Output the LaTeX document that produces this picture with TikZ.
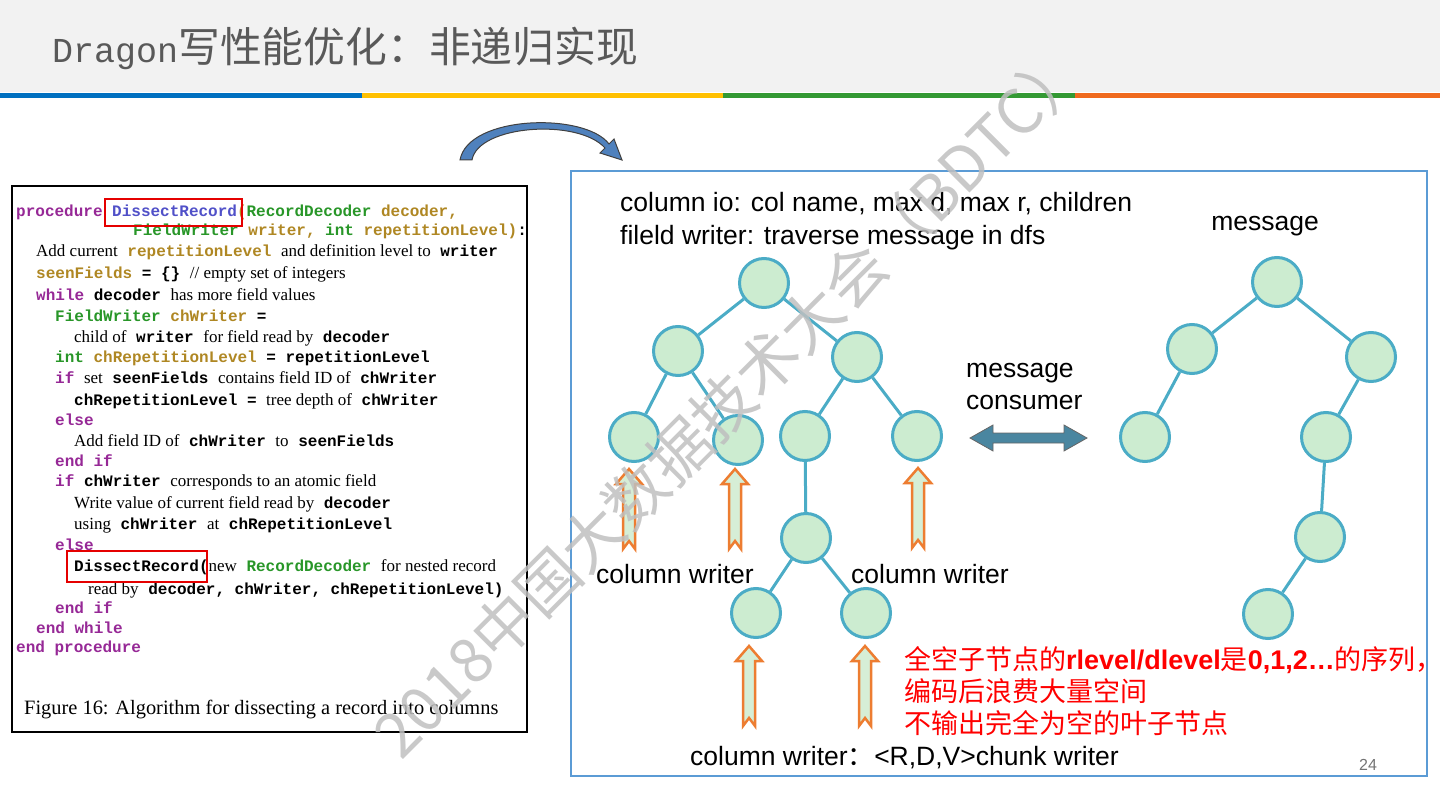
\documentclass[tikz,border=0pt]{standalone}
\usepackage{fontspec}
\setmainfont{Liberation Serif}
\setsansfont{Liberation Sans}
\setmonofont{Liberation Mono}
\newfontfamily\cjk{Noto Sans CJK SC}
\usetikzlibrary{positioning,arrows.meta,calc}

\definecolor{hdrgray}{RGB}{242,242,242}
\definecolor{barblue}{RGB}{0,112,192}
\definecolor{baryellow}{RGB}{255,192,0}
\definecolor{bargreen}{RGB}{51,153,51}
\definecolor{barorange}{RGB}{240,106,30}
\definecolor{titlegray}{RGB}{89,89,89}
\definecolor{kwpurple}{RGB}{150,40,150}
\definecolor{fnblue}{RGB}{80,80,200}
\definecolor{tygreen}{RGB}{40,150,40}
\definecolor{vagold}{RGB}{175,135,35}
\definecolor{panelblue}{RGB}{91,155,213}
\definecolor{nodefill}{RGB}{204,236,208}
\definecolor{nodeedge}{RGB}{75,172,198}
\definecolor{arrteal}{RGB}{74,134,160}
\definecolor{arrorange}{RGB}{237,125,49}
\definecolor{arrfill}{RGB}{214,238,214}
\definecolor{curveblue}{RGB}{79,129,189}

% code listing: mono bold by default, \tx for the prose parts
\newcommand{\kw}[1]{\textcolor{kwpurple}{#1}}
\newcommand{\fn}[1]{\textcolor{fnblue}{#1}}
\newcommand{\ty}[1]{\textcolor{tygreen}{#1}}
\newcommand{\va}[1]{\textcolor{vagold}{#1}}
\newcommand{\tx}[1]{{\rmfamily\mdseries\fontsize{17}{18}\selectfont #1}}

\begin{document}
\begin{tikzpicture}[
  x=1pt, y=-1pt,
  every node/.style={inner sep=0pt},
  codeln/.style={anchor=base west, font=\ttfamily\bfseries\fontsize{16}{18}\selectfont},
  txt/.style={font=\sffamily\fontsize{26.5}{32}\selectfont},
  redtxt/.style={font=\cjk\fontsize{27}{32}\selectfont, text=red, anchor=base west},
  tn/.style={circle, draw=nodeedge, fill=nodefill, line width=3pt, minimum size=49pt},
  tl/.style={draw=nodeedge, line width=3pt},
  redbox/.style={draw=red!90!black, line width=2pt},
  uparr/.pic={\draw[line width=2.5pt, draw=arrorange, fill=arrfill]
    (0,0) -- (13,15) -- (6,15) -- (6,80) -- (0,72) -- (-6,80) -- (-6,15) -- (-13,15) -- cycle;}
]
\useasboundingbox (0,0) rectangle (1440,810);

% header
\fill[hdrgray] (0,0) rectangle (1440,92);
\fill[barblue] (0,93) rectangle (362,98);
\fill[baryellow] (362,93) rectangle (723,98);
\fill[bargreen] (723,93) rectangle (1075,98);
\fill[barorange] (1075,93) rectangle (1440,98);
\node[anchor=base west, text=titlegray] (title) at (52,63)
  {{\ttfamily\fontsize{35}{40}\selectfont Dragon}{\cjk\fontsize{41.8}{44}\selectfont 写性能优化：非递归实现}};

% curved arrow
\filldraw[fill=curveblue, draw=black!75, line width=1pt]
  (460,160) .. controls (468,115) and (585,112) .. (609,144) -- (614,139) -- (622,160)
  -- (600,153) -- (605,148) .. controls (578,118) and (478,125) .. (472,160) -- cycle;

% algorithm listing
\draw[line width=1.2pt] (12,186) rectangle (527,732);
\node[codeln] (l1) at (16,217) {\kw{procedure} \fn{DissectRecord}\va{(}\ty{RecordDecoder} \va{decoder,}};
\node[codeln] (l2) at (133,236) {\ty{FieldWriter} \va{writer,} \ty{int} \va{repetitionLevel)}:};
\node[codeln] (l3) at (36,257) {\tx{Add current} \va{repetitionLevel} \tx{and definition level to} writer};
\node[codeln] (l4) at (36,279) {\va{seenFields} = \{\} \tx{// empty set of integers}};
\node[codeln] (l5) at (36,301) {\kw{while} decoder \tx{has more field values}};
\node[codeln] (l6) at (55,321) {\ty{FieldWriter} \va{chWriter} =};
\node[codeln] (l7) at (74,342) {\tx{child of} writer \tx{for field read by} decoder};
\node[codeln] (l8) at (55,362) {\ty{int} \va{chRepetitionLevel} = repetitionLevel};
\node[codeln] (l9) at (55,383) {\kw{if} \tx{set} seenFields \tx{contains field ID of} chWriter};
\node[codeln] (l10) at (74,405) {chRepetitionLevel = \tx{tree depth of} chWriter};
\node[codeln] (l11) at (55,425) {\kw{else}};
\node[codeln] (l12) at (74,446) {\tx{Add field ID of} chWriter \tx{to} seenFields};
\node[codeln] (l13) at (55,466) {\kw{end if}};
\node[codeln] (l14) at (55,486) {\kw{if} chWriter \tx{corresponds to an atomic field}};
\node[codeln] (l15) at (74,508) {\tx{Write value of current field read by} decoder};
\node[codeln] (l16) at (74,529) {\tx{using} chWriter \tx{at} chRepetitionLevel};
\node[codeln] (l17) at (55,550) {\kw{else}};
\node[codeln] (l18) at (74,571) {DissectRecord(\tx{new} \ty{RecordDecoder} \tx{for nested record}};
\node[codeln] (l19) at (88,594) {\tx{read by} decoder, chWriter, chRepetitionLevel)};
\node[codeln] (l20) at (55,613) {\kw{end if}};
\node[codeln] (l21) at (36,633) {\kw{end while}};
\node[codeln] (l22) at (16,652) {\kw{end procedure}};
\node[codeln, font=\rmfamily\fontsize{20.4}{22}\selectfont] (cap) at (24,714)
  {Figure 16: Algorithm for dissecting a record into columns};
\draw[redbox] (105,199) rectangle (242,226);
\draw[redbox] (67,551) rectangle (207,582);

% right panel
\draw[draw=panelblue, line width=2pt] (571,171) rectangle (1427,776);
\node[txt, anchor=base west] (io) at (620,212) {column io: col name, max d, max r, children};
\node[txt, anchor=base west] (fw) at (620,245) {fileld writer: traverse message in dfs};
\node[txt] (msg) at (1265,226) {message};
\node[txt, anchor=west, align=left] (cons) at (966,386) {message\\consumer};

% column tree
\node[tn] (r) at (764,283) {};
\node[tn] (a) at (678,351) {};
\node[tn] (b) at (857,357) {};
\node[tn] (aa) at (634,437) {};
\node[tn] (ab) at (738,440) {};
\node[tn] (ba) at (805,436) {};
\node[tn] (bb) at (917,436) {};
\node[tn] (c) at (806,538) {};
\node[tn] (ca) at (756,613) {};
\node[tn] (cb) at (866,613) {};

% message tree
\node[tn] (mr) at (1277,282) {};
\node[tn] (ma) at (1192,349) {};
\node[tn] (mb) at (1371,357) {};
\node[tn] (maa) at (1145,437) {};
\node[tn] (mba) at (1326,437) {};
\node[tn] (mc) at (1320,537) {};
\node[tn] (md) at (1268,614) {};

\foreach \u/\v in {r/a,r/b,a/aa,a/ab,b/ba,b/bb,ba/c,c/ca,c/cb,
                   mr/ma,mr/mb,ma/maa,mb/mba,mba/mc,mc/md}
  \draw[tl] (\u) -- (\v);

% exchange arrow
\filldraw[fill=arrteal, draw=black!60, line width=0.8pt]
  (970,438) -- (993,425) -- (993,433) -- (1064,433) -- (1064,425) -- (1087,438)
  -- (1064,451) -- (1064,443) -- (993,443) -- (993,451) -- cycle;

% column writers
\pic at (629,469) {uparr};
\pic at (735,469) {uparr};
\pic at (918,468) {uparr};
\pic at (749,646) {uparr};
\pic at (865,646) {uparr};
\node[txt] (cw1) at (675,574) {column writer};
\node[txt] (cw2) at (930,574) {column writer};
\node[txt, anchor=base west] (cw3) at (690,765) {column writer{\cjk ：}<R,D,V>chunk writer};

\node[redtxt] (n1) at (904,669) {全空子节点的{\sffamily\bfseries rlevel/dlevel}是{\sffamily\bfseries 0,1,2…}的序列，};
\node[redtxt] (n2) at (904,701) {编码后浪费大量空间};
\node[redtxt] (n3) at (904,733) {不输出完全为空的叶子节点};

\node[font=\sffamily\fontsize{16}{18}\selectfont, text=black!55] (pg) at (1368,765) {24};

% watermark
\node[font=\cjk\fontsize{62}{64}\selectfont, text=black!25, opacity=0.85, rotate=45] (wm)
  at (730,400) {2018中国大数据技术大会（BDTC）};
\end{tikzpicture}
\end{document}
